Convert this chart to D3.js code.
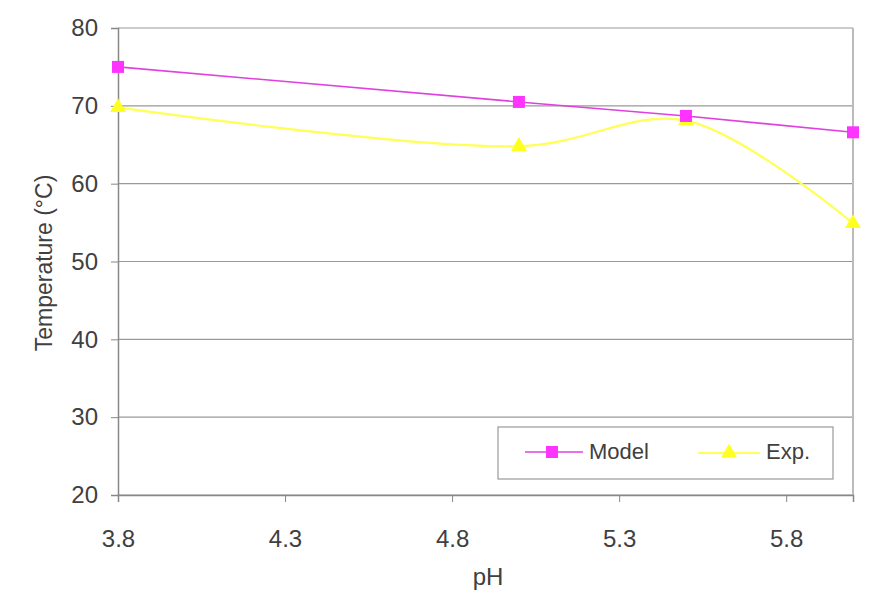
<!DOCTYPE html>
<html>
<head>
<meta charset="utf-8">
<script src="https://cdn.jsdelivr.net/npm/d3@7"></script>
<style>
body{margin:0;background:#fff;}
text{font-family:"Liberation Sans",Arial,sans-serif;fill:#404040;}
</style>
</head>
<body>
<svg id="chart" width="894" height="593"></svg>
<script>
// data
var ph = [3.8, 5.0, 5.5, 6.0];
var model = [75.0, 70.5, 68.7, 66.6];
var exper = [69.8, 64.8, 68.1, 54.9];
var xTicks = [3.8, 4.3, 4.8, 5.3, 5.8];
var yTicks = [20, 30, 40, 50, 60, 70, 80];

var svg = d3.select("#chart");
var pLeft = 118, pRight = 853, pTop = 28, pBottom = 495;

var x = d3.scaleLinear().domain([3.8, 6.0]).range([pLeft, pRight]);
var y = d3.scaleLinear().domain([20, 80]).range([pBottom, pTop]);

// gridlines
svg.append("g").selectAll("line").data(yTicks).enter().append("line")
	.attr("x1", pLeft).attr("x2", pRight)
	.attr("y1", function(d){ return y(d); }).attr("y2", function(d){ return y(d); })
	.attr("style", "stroke:#999; stroke-width:1.2;");
// right border
svg.append("line").attr("x1", pRight).attr("x2", pRight).attr("y1", pTop).attr("y2", pBottom)
	.attr("style", "stroke:#bbb; stroke-width:2;");

var xAxis = svg.append("g").attr("transform", "translate(0," + pBottom + ")")
	.call(d3.axisBottom(x).tickValues(xTicks).tickFormat(d3.format(".1f")).tickSize(7).tickPadding(28));
var yAxis = svg.append("g").attr("transform", "translate(" + pLeft + ",0)")
	.call(d3.axisLeft(y).tickValues(yTicks).tickSize(7).tickPadding(13));
[xAxis, yAxis].forEach(function(a){
	a.select(".domain").attr("stroke", "#888").attr("stroke-width", 1.5);
	a.selectAll(".tick line").attr("stroke", "#888");
	a.selectAll("text").style("font-size", "24px").attr("fill", "#404040");
});

svg.append("text").attr("x", 488).attr("y", 585).attr("text-anchor", "middle")
	.style("font-size", "24px").text("pH");
svg.append("text").attr("transform", "translate(52,263)rotate(-90)").attr("text-anchor", "middle")
	.style("font-size", "23px").text("Temperature (°C)");

var modelPts = ph.map(function(d, i){ return [x(d), y(model[i])]; });
var expPts = ph.map(function(d, i){ return [x(d), y(exper[i])]; });

svg.append("path").attr("d", d3.line().curve(d3.curveCatmullRom.alpha(0.5))(expPts))
	.attr("fill", "none").attr("stroke", "#ffff55").attr("stroke-width", 2.2);
svg.append("path").attr("d", d3.line()(modelPts))
	.attr("fill", "none").attr("stroke", "#e040e0").attr("stroke-width", 1.6);

var tri = d3.symbol().type(d3.symbolTriangle).size(110);
svg.append("g").selectAll("path").data(expPts).enter().append("path")
	.attr("d", tri).attr("transform", function(d){ return "translate(" + d[0] + "," + d[1] + ")"; })
	.attr("fill", "#ffff22");
svg.append("g").selectAll("rect").data(modelPts).enter().append("rect")
	.attr("x", function(d){ return d[0] - 6; }).attr("y", function(d){ return d[1] - 6; })
	.attr("width", 12).attr("height", 12).attr("fill", "#ff33ff");

// legend
var lg = svg.append("g");
lg.append("rect").attr("x", 498).attr("y", 427).attr("width", 335).attr("height", 52)
	.attr("fill", "#fff").attr("stroke", "#999").attr("stroke-width", 1.2);
lg.append("line").attr("x1", 525).attr("x2", 583).attr("y1", 452).attr("y2", 452)
	.attr("stroke", "#e040e0").attr("stroke-width", 1.6);
lg.append("rect").attr("x", 546).attr("y", 446).attr("width", 12).attr("height", 12).attr("fill", "#ff33ff");
lg.append("text").attr("x", 589).attr("y", 459).style("font-size", "22px").text("Model");
lg.append("line").attr("x1", 698).attr("x2", 760).attr("y1", 453).attr("y2", 453)
	.attr("stroke", "#ffff55").attr("stroke-width", 2.2);
lg.append("path").attr("d", tri).attr("transform", "translate(729,453)").attr("fill", "#ffff22");
lg.append("text").attr("x", 766).attr("y", 459).style("font-size", "22px").text("Exp.");
</script>
</body>
</html>
